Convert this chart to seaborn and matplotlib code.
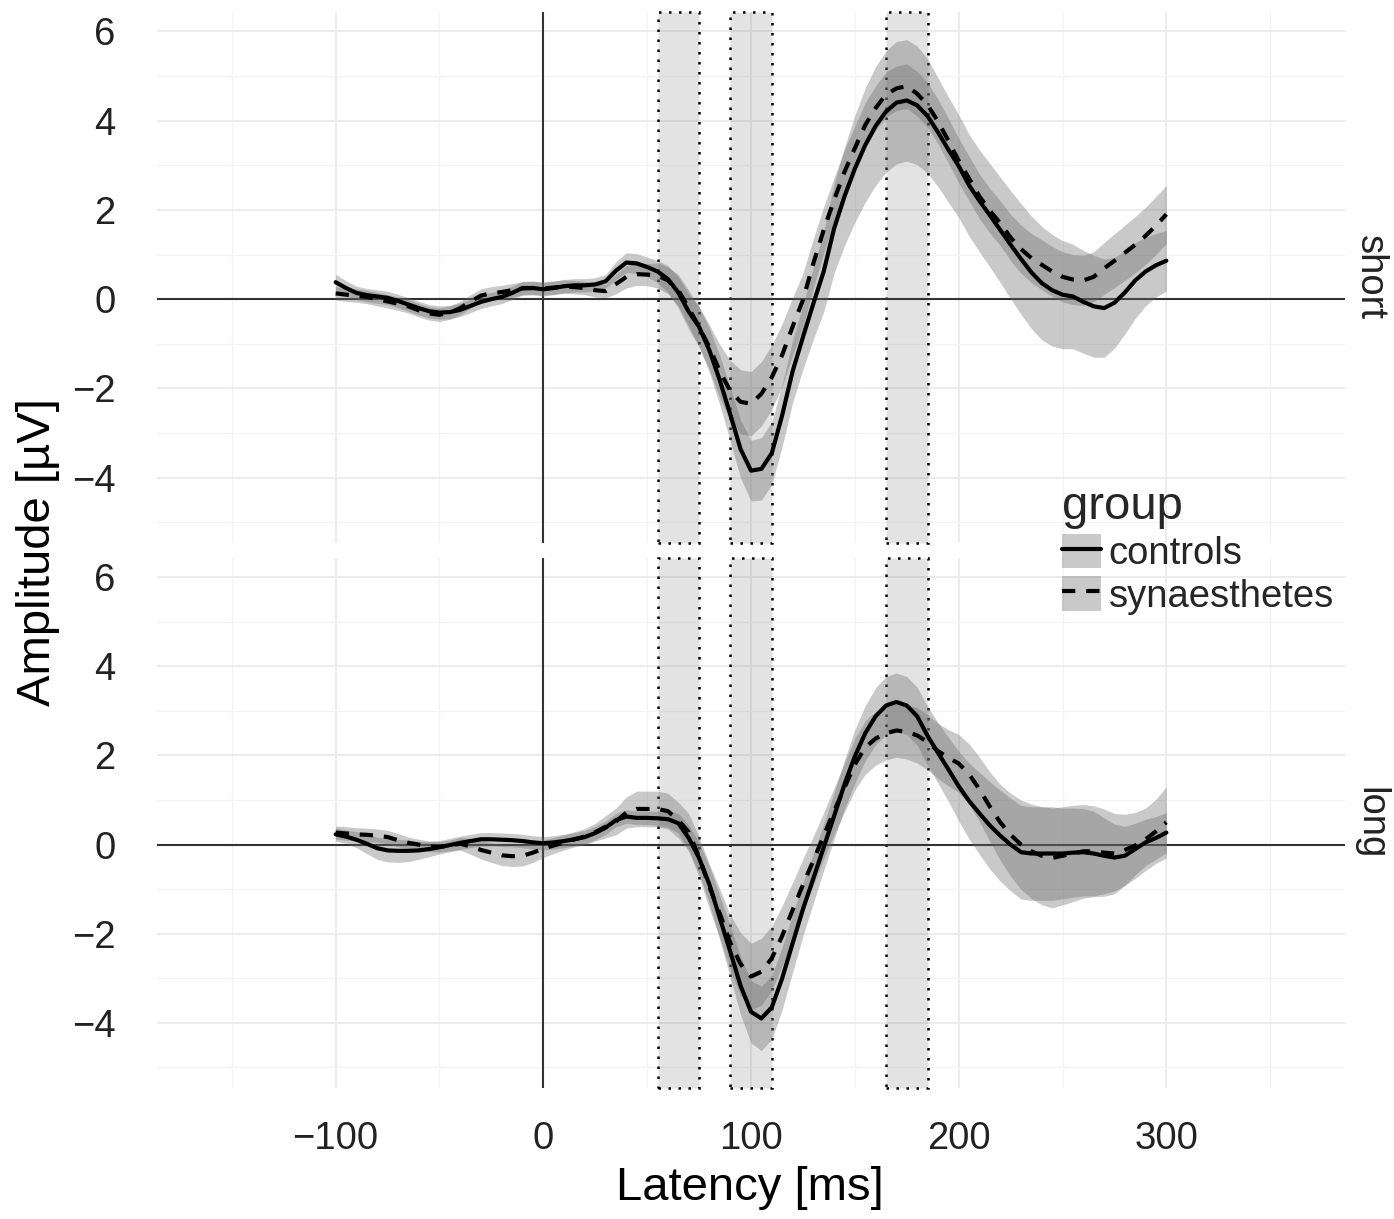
import numpy as np
import pandas as pd
import matplotlib
matplotlib.use("Agg")
import matplotlib.pyplot as plt
from matplotlib.patches import Patch
from matplotlib.lines import Line2D
from matplotlib.legend_handler import HandlerTuple
import seaborn as sns

# Grand-average ERP waveforms (mean and standard error) sampled every 5 ms
latency = list(range(-100, 301, 5))

short_controls_mean = [
    0.38, 0.25, 0.14, 0.09, 0.06, 0.03, -0.04, -0.12, -0.20,
    -0.27, -0.30, -0.29, -0.24, -0.15, -0.06, 0.00, 0.05, 0.14,
    0.25, 0.25, 0.22, 0.25, 0.29, 0.31, 0.31, 0.33, 0.40,
    0.64, 0.82, 0.80, 0.72, 0.62, 0.45, 0.15, -0.28, -0.62,
    -1.15, -1.82, -2.58, -3.36, -3.84, -3.80, -3.45, -2.60, -1.62,
    -0.85, -0.10, 0.62, 1.58, 2.30, 2.92, 3.45, 3.88, 4.20,
    4.40, 4.45, 4.34, 4.10, 3.74, 3.35, 2.98, 2.55, 2.20,
    1.88, 1.55, 1.22, 0.90, 0.60, 0.36, 0.20, 0.10, 0.06,
    -0.06, -0.16, -0.20, -0.08, 0.15, 0.42, 0.62, 0.76, 0.86]
short_controls_se = [
    0.18, 0.16, 0.15, 0.15, 0.15, 0.15, 0.15, 0.15, 0.15,
    0.15, 0.15, 0.15, 0.15, 0.15, 0.15, 0.15, 0.15, 0.15,
    0.15, 0.15, 0.15, 0.15, 0.15, 0.15, 0.15, 0.15, 0.15,
    0.20, 0.22, 0.22, 0.22, 0.25, 0.30, 0.35, 0.40, 0.45,
    0.50, 0.55, 0.60, 0.65, 0.68, 0.70, 0.70, 0.70, 0.70,
    0.72, 0.80, 0.90, 1.00, 1.10, 1.20, 1.28, 1.33, 1.36,
    1.37, 1.36, 1.33, 1.28, 1.22, 1.18, 1.15, 1.14, 1.14,
    1.16, 1.18, 1.21, 1.24, 1.26, 1.27, 1.25, 1.21, 1.17,
    1.15, 1.14, 1.10, 1.02, 0.93, 0.85, 0.77, 0.71, 0.68]
short_synaesthetes_mean = [
    0.13, 0.10, 0.08, 0.05, 0.00, -0.05, -0.10, -0.16, -0.25,
    -0.32, -0.35, -0.30, -0.20, -0.05, 0.08, 0.13, 0.16, 0.20,
    0.24, 0.25, 0.24, 0.26, 0.28, 0.27, 0.25, 0.20, 0.18,
    0.34, 0.50, 0.56, 0.55, 0.53, 0.42, 0.20, -0.20, -0.62,
    -1.08, -1.62, -2.05, -2.30, -2.34, -2.12, -1.75, -1.25, -0.62,
    -0.02, 0.80, 1.55, 2.22, 2.85, 3.38, 3.90, 4.28, 4.58,
    4.72, 4.77, 4.60, 4.35, 3.98, 3.55, 3.10, 2.70, 2.30,
    1.98, 1.70, 1.38, 1.12, 0.92, 0.77, 0.62, 0.50, 0.44,
    0.42, 0.50, 0.69, 0.86, 1.04, 1.22, 1.42, 1.65, 1.90]
short_synaesthetes_se = [
    0.15, 0.15, 0.15, 0.15, 0.15, 0.15, 0.15, 0.15, 0.15,
    0.15, 0.15, 0.15, 0.15, 0.15, 0.15, 0.15, 0.15, 0.15,
    0.15, 0.15, 0.15, 0.15, 0.15, 0.15, 0.15, 0.15, 0.15,
    0.22, 0.25, 0.25, 0.25, 0.28, 0.30, 0.35, 0.40, 0.45,
    0.50, 0.60, 0.68, 0.72, 0.72, 0.72, 0.72, 0.70, 0.65,
    0.60, 0.55, 0.52, 0.50, 0.50, 0.50, 0.50, 0.50, 0.50,
    0.50, 0.50, 0.50, 0.50, 0.50, 0.50, 0.50, 0.50, 0.50,
    0.50, 0.50, 0.52, 0.54, 0.55, 0.56, 0.56, 0.56, 0.56,
    0.56, 0.56, 0.58, 0.60, 0.62, 0.63, 0.64, 0.65, 0.65]

long_controls_mean = [
    0.23, 0.18, 0.11, 0.02, -0.08, -0.13, -0.14, -0.14, -0.13,
    -0.10, -0.06, -0.01, 0.04, 0.08, 0.12, 0.12, 0.11, 0.10,
    0.08, 0.05, 0.03, 0.05, 0.08, 0.12, 0.17, 0.26, 0.38,
    0.55, 0.63, 0.60, 0.60, 0.59, 0.57, 0.48, 0.15, -0.30,
    -0.90, -1.65, -2.40, -3.17, -3.75, -3.90, -3.65, -3.00, -2.22,
    -1.45, -0.76, -0.06, 0.64, 1.35, 1.98, 2.50, 2.88, 3.12,
    3.20, 3.12, 2.88, 2.44, 2.06, 1.69, 1.31, 0.98, 0.70,
    0.43, 0.20, 0.00, -0.17, -0.20, -0.20, -0.20, -0.20, -0.18,
    -0.17, -0.20, -0.25, -0.29, -0.25, -0.10, 0.05, 0.15, 0.27]
long_controls_se = [
    0.15, 0.15, 0.18, 0.22, 0.25, 0.26, 0.26, 0.24, 0.20,
    0.17, 0.15, 0.15, 0.15, 0.15, 0.15, 0.15, 0.15, 0.15,
    0.15, 0.15, 0.15, 0.15, 0.15, 0.15, 0.15, 0.15, 0.15,
    0.15, 0.15, 0.15, 0.15, 0.16, 0.18, 0.22, 0.28, 0.35,
    0.42, 0.50, 0.58, 0.65, 0.70, 0.72, 0.72, 0.70, 0.65,
    0.60, 0.55, 0.52, 0.52, 0.55, 0.60, 0.62, 0.64, 0.65,
    0.65, 0.65, 0.65, 0.66, 0.68, 0.72, 0.78, 0.85, 0.92,
    0.98, 1.02, 1.04, 1.05, 1.05, 1.05, 1.05, 1.02, 1.00,
    0.98, 0.95, 0.85, 0.75, 0.66, 0.58, 0.52, 0.48, 0.45]
long_synaesthetes_mean = [
    0.27, 0.25, 0.23, 0.22, 0.20, 0.17, 0.10, 0.04, 0.00,
    -0.04, -0.05, -0.02, 0.02, -0.04, -0.12, -0.18, -0.24, -0.26,
    -0.25, -0.18, -0.09, -0.02, 0.05, 0.12, 0.18, 0.28, 0.40,
    0.52, 0.72, 0.80, 0.80, 0.80, 0.75, 0.55, 0.28, -0.28,
    -0.95, -1.55, -2.20, -2.68, -2.96, -2.85, -2.55, -2.05, -1.47,
    -0.90, -0.36, 0.20, 0.75, 1.28, 1.80, 2.18, 2.38, 2.50,
    2.56, 2.53, 2.45, 2.30, 2.10, 1.95, 1.82, 1.58, 1.24,
    0.85, 0.50, 0.22, 0.00, -0.15, -0.25, -0.30, -0.25, -0.20,
    -0.15, -0.15, -0.18, -0.20, -0.12, -0.02, 0.12, 0.30, 0.50]
long_synaesthetes_se = [
    0.15, 0.15, 0.15, 0.15, 0.15, 0.15, 0.15, 0.13, 0.12,
    0.12, 0.12, 0.12, 0.14, 0.18, 0.20, 0.22, 0.23, 0.23,
    0.23, 0.22, 0.20, 0.18, 0.17, 0.17, 0.18, 0.20, 0.25,
    0.30, 0.35, 0.40, 0.40, 0.40, 0.40, 0.40, 0.42, 0.45,
    0.50, 0.55, 0.62, 0.70, 0.75, 0.75, 0.72, 0.68, 0.62,
    0.58, 0.55, 0.52, 0.52, 0.55, 0.58, 0.60, 0.60, 0.60,
    0.60, 0.61, 0.62, 0.62, 0.62, 0.63, 0.65, 0.68, 0.72,
    0.78, 0.85, 0.93, 1.00, 1.06, 1.10, 1.12, 1.10, 1.08,
    1.05, 1.02, 0.98, 0.90, 0.80, 0.74, 0.70, 0.72, 0.80]

groups = ["controls", "synaesthetes"]
conditions = ["short", "long"]
# analysis windows (ms) highlighted in both panels
windows = [(55, 75), (90, 110), (165, 185)]

series = {
    ("short", "controls"): (short_controls_mean, short_controls_se),
    ("short", "synaesthetes"): (short_synaesthetes_mean, short_synaesthetes_se),
    ("long", "controls"): (long_controls_mean, long_controls_se),
    ("long", "synaesthetes"): (long_synaesthetes_mean, long_synaesthetes_se),
}

rows = []
for (cond, grp), (m, s) in series.items():
    for t, mv, sv in zip(latency, m, s):
        rows.append({"condition": cond, "group": grp, "latency": t,
                     "amplitude": mv, "lower": mv - sv, "upper": mv + sv})
df = pd.DataFrame(rows)

sns.set_theme(style="white")
plt.rcParams["font.family"] = ["Liberation Sans", "DejaVu Sans"]
plt.rcParams["axes.unicode_minus"] = True
plt.rcParams["lines.solid_joinstyle"] = "round"
plt.rcParams["lines.dash_joinstyle"] = "round"

TXT = "#222222"
RIBBON = "#666666"
fig = plt.figure(figsize=(13.94, 12.19), dpi=100)
left, width = 0.11263, 0.85223
ax_top = fig.add_axes([left, 0.55455, width, 0.43560])
ax_bot = fig.add_axes([left, 0.10747, width, 0.43478])

dash_map = {"controls": "", "synaesthetes": (3.2, 2.6)}

for ax, cond in zip([ax_top, ax_bot], conditions):
    sub = df[df["condition"] == cond]
    ax.set_xlim(-186, 386)
    ax.set_ylim(-5.46, 6.43)
    ax.set_xticks([-100, 0, 100, 200, 300])
    ax.set_xticks([-150, -50, 50, 150, 250, 350], minor=True)
    ax.set_yticks([-4, -2, 0, 2, 4, 6])
    ax.set_yticks([-5, -3, -1, 1, 3, 5], minor=True)
    ax.grid(which="major", color="#ebebeb", lw=1.3, zorder=0)
    ax.grid(which="minor", color="#f3f3f3", lw=0.9, zorder=0)
    ax.set_axisbelow(True)
    for sp in ax.spines.values():
        sp.set_visible(False)
    ax.tick_params(which="both", length=0, labelsize=27.5, labelcolor=TXT)
    ax.tick_params(axis="y", pad=30)
    ax.tick_params(axis="x", pad=24)

    for x0, x1 in windows:
        ax.axvspan(x0, x1, facecolor=(0.35, 0.35, 0.35, 0.17),
                   edgecolor="black", linestyle=(0, (1, 3)), lw=1.8,
                   zorder=1, clip_on=False)

    ax.axhline(0, color="#333333", lw=1.5, zorder=1.5)
    ax.axvline(0, color="#333333", lw=1.5, zorder=1.5)

    for grp in groups:
        g = sub[sub["group"] == grp]
        ax.fill_between(g["latency"], g["lower"], g["upper"],
                        color=RIBBON, alpha=0.35, lw=0, zorder=2)

    sns.lineplot(data=sub, x="latency", y="amplitude", style="group",
                 style_order=groups, dashes=dash_map, color="black",
                 lw=3, estimator=None, sort=False, legend=False,
                 ax=ax, zorder=3)
    ax.set_xlabel("")
    ax.set_ylabel("")
    ax.text(1.021, 0.5, cond, rotation=-90, transform=ax.transAxes,
            ha="center", va="center", fontsize=27.5, color=TXT)

ax_top.tick_params(axis="x", labelbottom=False)

fig.text(0.027, 0.547, "Amplitude [µV]", rotation=90, ha="center",
         va="center", fontsize=34, color="black")
fig.text(0.538, 0.0255, "Latency [ms]", ha="center", va="center",
         fontsize=34, color="black")

handles = [
    (Patch(facecolor=RIBBON, alpha=0.35, lw=0),
     Line2D([], [], color="black", lw=3)),
    (Patch(facecolor=RIBBON, alpha=0.35, lw=0),
     Line2D([], [], color="black", lw=3, linestyle=(0, (3.2, 2.6)))),
]
leg = fig.legend(handles, groups, handler_map={tuple: HandlerTuple(ndivide=1, pad=0)},
                 loc="upper left", bbox_to_anchor=(1062 / 1394, 1 - 485 / 1219),
                 title="group", frameon=False, fontsize=27.5, title_fontsize=34,
                 handlelength=1.02, handleheight=1.0, handletextpad=0.2,
                 labelspacing=0.12, borderpad=0, borderaxespad=0,
                 alignment="left")

fig.savefig("out.png", dpi=100)
